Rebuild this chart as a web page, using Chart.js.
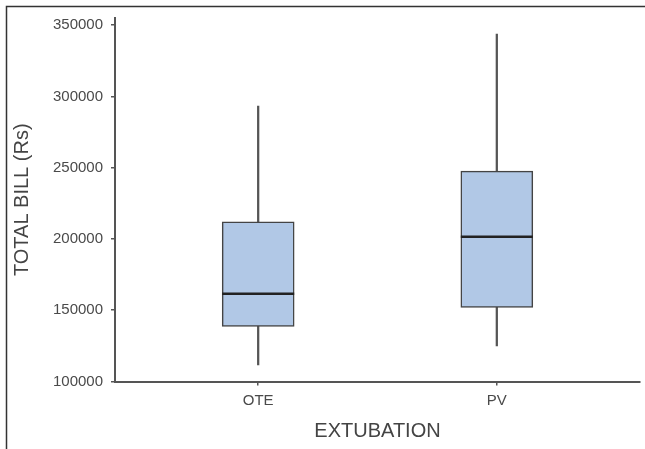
<!DOCTYPE html>
<html>
<head>
<meta charset="utf-8">
<script src="https://cdn.jsdelivr.net/npm/chart.js@4/dist/chart.umd.min.js"></script>
<style>
  html, body { margin: 0; padding: 0; background: #ffffff; }
  #wrap { width: 645px; height: 449px; position: relative; }
</style>
</head>
<body>
<div id="wrap"><canvas id="c" width="645" height="449"></canvas></div>
<script>
// ---- data ----
const categories = ["OTE", "PV"];
const whiskerLow  = [111600, 124900];
const quartile1   = [138700, 152000];
const medians     = [161600, 201500];
const quartile3   = [212000, 247600];
const whiskerHigh = [293200, 343700];
const yTicks      = [100000, 150000, 200000, 250000, 300000, 350000];
const xPositions  = [1, 2];

const boxData   = xPositions.map((x, i) => ({ x: x, y: [quartile1[i], quartile3[i]] }));
const lowData   = xPositions.map((x, i) => ({ x: x, y: [whiskerLow[i], quartile1[i]] }));
const highData  = xPositions.map((x, i) => ({ x: x, y: [quartile3[i], whiskerHigh[i]] }));

const frameAndMedian = {
  id: 'frameAndMedian',
  beforeDraw(chart) {
    const ctx = chart.ctx;
    ctx.save();
    ctx.fillStyle = '#ffffff';
    ctx.fillRect(0, 0, chart.width, chart.height);
    ctx.strokeStyle = '#333333';
    ctx.lineWidth = 1.5;
    ctx.beginPath();
    ctx.moveTo(6.5, chart.height);
    ctx.lineTo(6.5, 6.5);
    ctx.lineTo(chart.width, 6.5);
    ctx.stroke();
    ctx.restore();
  },
  afterDatasetsDraw(chart) {
    const ctx = chart.ctx;
    const meta = chart.getDatasetMeta(0);
    const yScale = chart.scales.y;
    ctx.save();
    ctx.strokeStyle = '#222222';
    ctx.lineWidth = 2.5;
    meta.data.forEach((bar, i) => {
      const y = yScale.getPixelForValue(medians[i]);
      const half = bar.width / 2;
      ctx.beginPath();
      ctx.moveTo(bar.x - half, y);
      ctx.lineTo(bar.x + half, y);
      ctx.stroke();
    });
    ctx.restore();
  }
};

new Chart(document.getElementById('c'), {
  type: 'bar',
  data: {
    datasets: [
      {
        label: 'box',
        data: boxData,
        backgroundColor: '#b1c8e6',
        borderColor: '#444444',
        borderWidth: 1.5,
        borderSkipped: false,
        barThickness: 72,
        grouped: false
      },
      {
        label: 'low',
        data: lowData,
        backgroundColor: '#555555',
        borderWidth: 0,
        barThickness: 1.6,
        grouped: false
      },
      {
        label: 'high',
        data: highData,
        backgroundColor: '#555555',
        borderWidth: 0,
        barThickness: 1.6,
        grouped: false
      }
    ]
  },
  options: {
    responsive: false,
    animation: false,
    devicePixelRatio: 1,
    layout: { padding: { left: 0, right: 5, top: 18, bottom: 0 } },
    plugins: {
      legend: { display: false },
      tooltip: { enabled: false }
    },
    scales: {
      x: {
        type: 'linear',
        min: 0.4,
        max: 2.6,
        offset: false,
        afterBuildTicks(scale) { scale.ticks = xPositions.map(v => ({ value: v })); },
        afterFit(scale) { scale.height = 67.5; },
        ticks: {
          callback: (v) => categories[xPositions.indexOf(v)] ?? '',
          color: '#4a4a4a',
          font: { family: 'Liberation Sans', size: 15 },
          padding: 6,
          maxRotation: 0
        },
        grid: { display: true, offset: false, drawOnChartArea: false, drawTicks: true, tickLength: 4, color: '#555555', lineWidth: 1.5 },
        border: { display: true, color: '#555555', width: 2 },
        title: {
          display: true,
          text: 'EXTUBATION',
          color: '#444444',
          font: { family: 'Liberation Sans', size: 20 },
          padding: { top: 6, bottom: 6 }
        }
      },
      y: {
        type: 'linear',
        min: 100000,
        max: 355000,
        afterBuildTicks(scale) { scale.ticks = yTicks.map(v => ({ value: v })); },
        afterFit(scale) { scale.width = 115; },
        ticks: {
          color: '#4a4a4a',
          font: { family: 'Liberation Sans', size: 15 },
          padding: 8,
          callback: (v) => String(v)
        },
        grid: { display: true, drawOnChartArea: false, drawTicks: true, tickLength: 4, color: '#555555', lineWidth: 1.5 },
        border: { display: true, color: '#555555', width: 2 },
        title: {
          display: true,
          text: 'TOTAL BILL (Rs)',
          color: '#444444',
          font: { family: 'Liberation Sans', size: 20 },
          padding: { top: 10, bottom: 10 }
        }
      }
    }
  },
  plugins: [frameAndMedian]
});
</script>
</body>
</html>
